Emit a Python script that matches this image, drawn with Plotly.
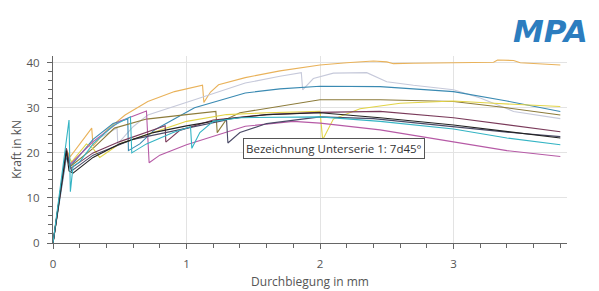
import plotly.graph_objects as go

# Force-deflection curves (Durchbiegung in mm, Kraft in kN)
orange_x = [0, 0.05, 0.10, 0.13, 0.20, 0.29, 0.30, 0.40, 0.54, 0.71, 0.91, 1.12, 1.13, 1.18, 1.24, 1.44, 1.70, 2.00, 2.20, 2.40, 2.50, 2.55, 2.70, 3.00, 3.30, 3.33, 3.45, 3.50, 3.65, 3.80]
orange_y = [0, 10.5, 20.5, 19.2, 22.0, 25.5, 21.5, 25.0, 28.4, 31.4, 33.6, 35.0, 31.2, 33.5, 35.1, 36.7, 38.2, 39.5, 40.0, 40.4, 40.2, 39.8, 39.9, 40.0, 40.1, 40.6, 40.5, 40.0, 39.8, 39.5]

lgray_x = [0, 0.05, 0.10, 0.13, 0.30, 0.48, 0.485, 0.60, 0.71, 1.06, 1.44, 1.70, 1.86, 1.87, 1.95, 2.10, 2.35, 2.50, 2.70, 3.00, 3.20, 3.45, 3.80]
lgray_y = [0, 10.0, 20.0, 17.5, 22.5, 25.5, 22.0, 25.8, 28.4, 31.8, 35.5, 37.0, 37.8, 34.0, 36.5, 37.7, 37.8, 35.8, 35.0, 34.0, 32.2, 29.2, 27.6]

blue_x = [0, 0.05, 0.10, 0.13, 0.30, 0.45, 0.56, 0.565, 0.65, 0.76, 1.06, 1.44, 1.70, 2.00, 2.45, 3.00, 3.40, 3.80]
blue_y = [0, 9.5, 19.0, 17.0, 23.0, 26.5, 27.5, 20.5, 22.0, 25.1, 30.0, 33.3, 34.2, 34.8, 34.7, 33.6, 31.5, 29.2]

olive_x = [0, 0.05, 0.10, 0.13, 0.30, 0.46, 0.70, 1.00, 1.22, 1.23, 1.30, 1.40, 1.70, 2.00, 2.45, 3.00, 3.40, 3.80]
olive_y = [0, 10.5, 21.0, 17.0, 21.0, 25.5, 27.5, 28.5, 29.2, 24.5, 27.5, 28.9, 30.3, 31.8, 31.8, 31.4, 30.0, 28.4]

yellow_x = [0, 0.05, 0.10, 0.14, 0.25, 0.30, 0.35, 0.50, 0.80, 1.00, 1.30, 1.60, 2.00, 2.02, 2.10, 2.30, 2.60, 3.00, 3.30, 3.80]
yellow_y = [0, 10.0, 20.0, 18.0, 22.0, 21.0, 19.0, 22.0, 25.0, 27.0, 28.5, 28.9, 29.2, 22.9, 27.5, 29.8, 31.0, 31.5, 31.0, 30.3]

magenta_x = [0, 0.05, 0.10, 0.13, 0.30, 0.50, 0.70, 0.72, 0.80, 1.00, 1.44, 1.80, 2.00, 2.45, 3.00, 3.40, 3.80]
magenta_y = [0, 10.0, 20.0, 17.5, 22.5, 27.0, 29.3, 17.8, 19.5, 21.8, 25.9, 27.0, 26.6, 25.1, 22.5, 20.5, 19.2]

maroon_x = [0, 0.05, 0.10, 0.13, 0.30, 0.50, 0.84, 0.845, 0.95, 1.20, 1.60, 2.00, 2.45, 3.00, 3.40, 3.80]
maroon_y = [0, 10.5, 21.0, 16.5, 20.0, 22.5, 26.0, 22.4, 25.0, 27.3, 28.5, 29.0, 29.2, 27.8, 26.3, 24.7]

black_x = [0, 0.05, 0.09, 0.10, 0.12, 0.15, 0.30, 0.50, 0.75, 1.00, 1.30, 1.60, 2.00, 2.45, 3.00, 3.40, 3.80]
black_y = [0, 10.0, 18.5, 20.5, 16.0, 15.5, 19.0, 22.0, 24.5, 26.0, 27.5, 28.5, 28.9, 27.8, 26.2, 24.8, 23.3]

slate_x = [0, 0.05, 0.10, 0.14, 0.30, 0.60, 1.00, 1.30, 1.31, 1.40, 1.60, 2.00, 2.40, 3.00, 3.40, 3.80]
slate_y = [0, 10.0, 20.0, 16.0, 19.5, 23.0, 25.5, 27.3, 22.2, 24.5, 26.5, 28.0, 27.6, 25.8, 24.6, 23.6]

cyan_x = [0, 0.05, 0.10, 0.12, 0.13, 0.15, 0.20, 0.30, 0.45, 0.58, 0.59, 0.70, 0.90, 1.03, 1.04, 1.10, 1.20, 1.40, 2.00, 2.45, 3.00, 3.40, 3.80]
cyan_y = [0, 11.0, 22.0, 27.3, 11.4, 17.0, 18.0, 22.0, 26.0, 28.0, 20.0, 22.0, 24.5, 25.8, 21.0, 24.5, 27.0, 27.8, 28.0, 27.0, 25.3, 23.3, 21.8]

series = [
    (orange_x, orange_y, "#e9b25a"),
    (lgray_x, lgray_y, "#c6c9da"),
    (blue_x, blue_y, "#3a8ab2"),
    (olive_x, olive_y, "#8c7b3a"),
    (yellow_x, yellow_y, "#e2d446"),
    (magenta_x, magenta_y, "#b65aa6"),
    (maroon_x, maroon_y, "#7a3a5a"),
    (slate_x, slate_y, "#4a4a66"),
    (black_x, black_y, "#222222"),
    (cyan_x, cyan_y, "#34b4c4"),
]

x_ticks = [0, 1, 2, 3]
y_ticks = [0, 10, 20, 30, 40]

fig = go.Figure()
for xs, ys, col in series:
    fig.add_trace(go.Scatter(x=xs, y=ys, mode="lines",
                             line=dict(color=col, width=1.1),
                             showlegend=False, hoverinfo="skip"))

axis_font = dict(family="Open Sans, Noto Sans, sans-serif", size=11.5, color="#555555")
title_font = dict(family="Open Sans, Noto Sans, sans-serif", size=12, color="#555555")

fig.update_layout(
    width=599, height=291,
    margin=dict(l=45, r=40, t=48, b=56, autoexpand=False),
    paper_bgcolor="white", plot_bgcolor="white",
    xaxis=dict(range=[0, 3.85], tickvals=x_ticks, ticks="outside", ticklen=5,
               tickcolor="#666666", showline=True, linecolor="#666666", linewidth=1,
               showgrid=True, gridcolor="#e3e3e3", gridwidth=1, zeroline=False,
               tickfont=axis_font, ticklabelstandoff=5, automargin=False,
               minor=dict(dtick=0.2, ticks="outside", ticklen=4, tickcolor="#666666", showgrid=False),
               title=dict(text="Durchbiegung in mm", font=title_font, standoff=7)),
    yaxis=dict(range=[0, 41.5], tickvals=y_ticks, ticks="outside", ticklen=5,
               tickcolor="#666666", showline=True, linecolor="#666666", linewidth=1,
               showgrid=True, gridcolor="#e3e3e3", gridwidth=1, zeroline=False,
               tickfont=axis_font, ticklabelstandoff=5, automargin=False,
               minor=dict(dtick=2, ticks="outside", ticklen=4, tickcolor="#666666", showgrid=False),
               title=dict(text="Kraft in kN", font=title_font, standoff=10)),
)

fig.add_annotation(x=1.045, y=1.135, xref="paper", yref="paper", xanchor="right", yanchor="middle",
                   text="<b><i>MPA</i></b>", showarrow=False,
                   font=dict(family="DejaVu Sans, sans-serif", size=31, color="#2c7dbf"))

fig.add_annotation(x=1.42, y=20.9, xref="x", yref="y", xanchor="left", yanchor="middle",
                   text="Bezeichnung Unterserie 1: 7d45°", showarrow=False,
                   font=dict(family="Open Sans, Noto Sans, sans-serif", size=11.5, color="#333333"),
                   bgcolor="white", bordercolor="#555555", borderwidth=1, borderpad=2)

fig.write_html("out.html")
